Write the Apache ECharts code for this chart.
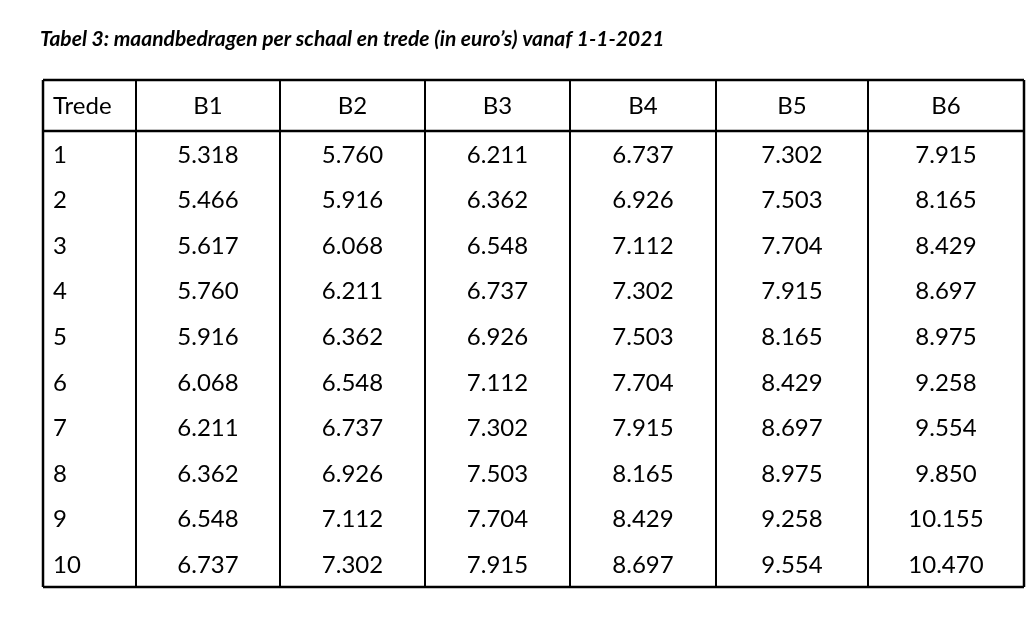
<!DOCTYPE html>
<html><head><meta charset="utf-8">
<script src="https://cdn.jsdelivr.net/npm/echarts@6/dist/echarts.min.js"></script>
<style>html,body{margin:0;background:#fff}#c{width:1036px;height:624px}</style>
</head><body><div id="c"></div>
<script>
const title = "Tabel 3: maandbedragen per schaal en trede (in euro’s) vanaf 1-1-2021";
const headers = ["Trede","B1","B2","B3","B4","B5","B6"];
const trede = ["1","2","3","4","5","6","7","8","9","10"];
const B1 = [5318,5466,5617,5760,5916,6068,6211,6362,6548,6737];
const B2 = [5760,5916,6068,6211,6362,6548,6737,6926,7112,7302];
const B3 = [6211,6362,6548,6737,6926,7112,7302,7503,7704,7915];
const B4 = [6737,6926,7112,7302,7503,7704,7915,8165,8429,8697];
const B5 = [7302,7503,7704,7915,8165,8429,8697,8975,9258,9554];
const B6 = [7915,8165,8429,8697,8975,9258,9554,9850,10155,10470];
const cols = [B1,B2,B3,B4,B5,B6];

// layout
const colEdges = [43,136,280,425,570,716,868,1024];
const tableTop = 80, headerBottom = 131, tableBottom = 587;
const rowH = (tableBottom - headerBottom) / trede.length;
const font = 'Lato, "Open Sans", sans-serif';

function fmt(v){ return String(v).replace(/\B(?=(\d{3})+(?!\d))/g, '.'); }

const cells = [];
headers.forEach((h,c)=>cells.push([c,-1,h]));
trede.forEach((t,r)=>{
  cells.push([0,r,t]);
  cols.forEach((arr,c)=>cells.push([c+1,r,fmt(arr[r])]));
});

const chart = echarts.init(document.getElementById('c'));
chart.setOption({
  animation:false,
  title:{text:title,left:35,top:24,textStyle:{fontFamily:font,fontSize:21,fontWeight:'bold',fontStyle:'italic',color:'#000'}},
  xAxis:{type:'value',show:false,min:0,max:1036},
  yAxis:{type:'value',show:false,min:0,max:624,inverse:true},
  grid:{left:0,right:0,top:0,bottom:0},
  series:[{
    type:'custom',
    data:cells.map(d=>[d[0],d[1]]),
    renderItem:function(params,api){
      const c = api.value(0), r = api.value(1);
      const txt = cells[params.dataIndex][2];
      const y0 = r < 0 ? tableTop : headerBottom + r*rowH;
      const y1 = r < 0 ? headerBottom : y0 + rowH;
      const x0 = colEdges[c], x1 = colEdges[c+1];
      const left = c===0;
      const children = [{
        type:'text',
        style:{text:txt,x:left? x0+10 : (x0+x1)/2, y:(y0+y1)/2+1,
          align:left?'left':'center',verticalAlign:'middle',
          font:'24px '+font,fill:'#000'}
      }];
      if (params.dataIndex===0){
        colEdges.forEach((x,i)=>children.push({type:'line',shape:{x1:x,y1:tableTop,x2:x,y2:tableBottom},style:{stroke:'#000',lineWidth:(i===0||i===colEdges.length-1)?2.5:2}}));
        [tableTop,headerBottom,tableBottom].forEach(y=>children.push({type:'line',shape:{x1:colEdges[0],y1:y,x2:colEdges[colEdges.length-1],y2:y},style:{stroke:'#000',lineWidth:2.5}}));
      }
      return {type:'group',children};
    }
  }]
});
</script></body></html>
